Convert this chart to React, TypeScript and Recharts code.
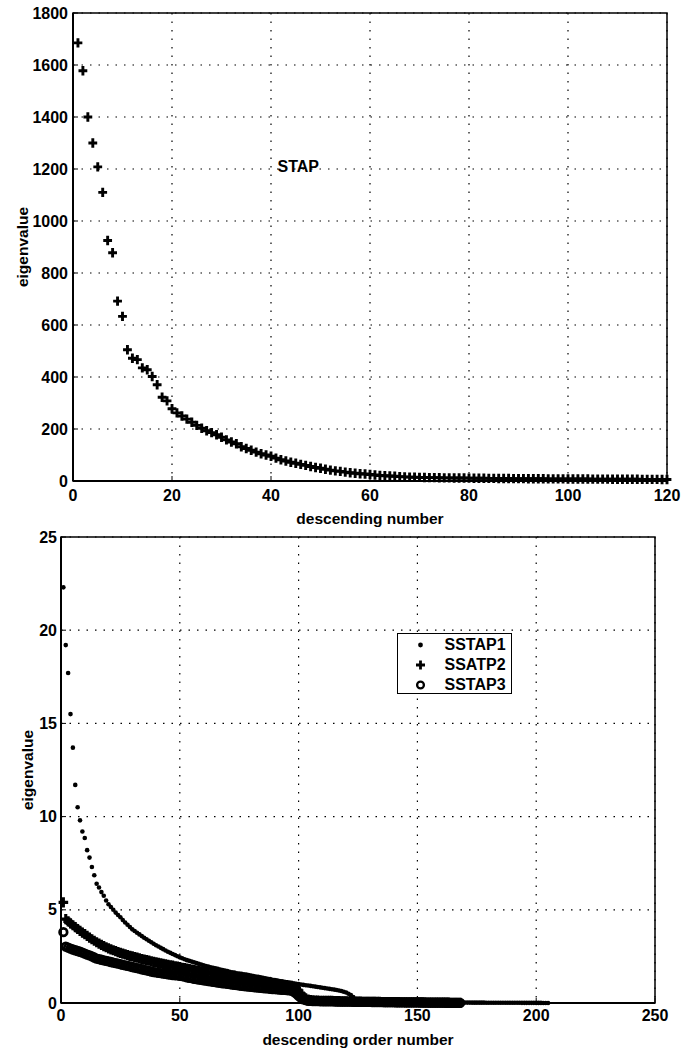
import {
  ScatterChart,
  Scatter,
  XAxis,
  YAxis,
  CartesianGrid,
  ReferenceArea,
  ReferenceDot,
  Legend,
} from 'recharts';

// eigenvalues of the full STAP covariance, in descending order
const stapValues = [
  1685, 1578, 1400, 1300, 1208, 1110, 925, 878, 692, 633,
  505, 472, 467, 435, 428, 402, 370, 322, 308, 278,
  262, 250, 238, 226, 214, 203, 193, 186, 178, 168,
  158, 150, 143, 132, 125, 118, 111, 105, 100, 95,
  88, 82, 77, 72, 68, 64, 60, 56, 52, 49,
  45, 42, 39, 37, 34, 32, 30, 28, 27, 25,
  23, 21, 20, 19, 18, 17, 16, 15, 14.5, 14,
  13.5, 13, 12.8, 12.5, 12.2, 12, 11.8, 11.5, 11.3, 11,
  10.8, 10.6, 10.4, 10.2, 10, 9.8, 9.7, 9.5, 9.3, 9.2,
  9, 8.9, 8.7, 8.6, 8.5, 8.3, 8.2, 8.1, 8, 7.9,
  7.8, 7.7, 7.6, 7.5, 7.4, 7.3, 7.2, 7.1, 7, 6.9,
  6.8, 6.7, 6.6, 6.5, 6.4, 6.3, 6.2, 6.1, 6, 5.9,
];

const sstap1Values = [
  22.3, 19.2, 17.7, 15.5, 13.7, 11.7, 10.5, 9.8, 9.2, 8.85,
  8.2, 7.8, 7.3, 6.85, 6.4, 6.2, 5.95, 5.75, 5.5, 5.3,
  5.15, 5.0, 4.85, 4.72, 4.6, 4.45, 4.32, 4.2, 4.08, 3.95,
  3.86, 3.77, 3.68, 3.59, 3.5, 3.42, 3.34, 3.26, 3.18, 3.1,
  3.03, 2.96, 2.89, 2.82, 2.75, 2.69, 2.63, 2.57, 2.51, 2.45,
  2.4, 2.35, 2.3, 2.26, 2.22, 2.18, 2.14, 2.1, 2.06, 2.02,
  1.98, 1.95, 1.92, 1.89, 1.86, 1.83, 1.8, 1.77, 1.74, 1.71,
  1.68, 1.65, 1.63, 1.6, 1.58, 1.56, 1.54, 1.52, 1.5, 1.47,
  1.45, 1.42, 1.4, 1.38, 1.35, 1.33, 1.3, 1.28, 1.25, 1.23,
  1.2, 1.18, 1.15, 1.13, 1.11, 1.09, 1.07, 1.05, 1.03, 1.01,
  0.99, 0.97, 0.95, 0.94, 0.92, 0.9, 0.88, 0.86, 0.84, 0.82,
  0.8, 0.78, 0.76, 0.74, 0.72, 0.7, 0.67, 0.64, 0.6, 0.56,
  0.5, 0.42, 0.32, 0.2, 0.1,
  0.07, 0.065, 0.06, 0.06, 0.058, 0.056, 0.055, 0.054, 0.052, 0.05,
  0.05, 0.049, 0.048, 0.047, 0.046, 0.045, 0.044, 0.043, 0.042, 0.041,
  0.04, 0.039, 0.038, 0.037, 0.036, 0.036, 0.035, 0.034, 0.033, 0.033,
  0.032, 0.031, 0.03, 0.03, 0.029, 0.028, 0.028, 0.027, 0.026, 0.026,
  0.025, 0.024, 0.024, 0.023, 0.022, 0.022, 0.021, 0.02, 0.02, 0.019,
  0.019, 0.018, 0.018, 0.017, 0.016, 0.016, 0.015, 0.015, 0.014, 0.014,
  0.013, 0.013, 0.012, 0.012, 0.011, 0.011, 0.01, 0.01, 0.009, 0.009,
  0.008, 0.008, 0.007, 0.007, 0.006, 0.006, 0.005, 0.004, 0.003, 0.002,
];

const ssatp2Values = [
  5.4, 4.5, 4.38, 4.27, 4.17, 4.07, 3.97, 3.87, 3.78, 3.69,
  3.6, 3.51, 3.42, 3.34, 3.26, 3.19, 3.12, 3.05, 2.99, 2.93,
  2.88, 2.83, 2.78, 2.73, 2.69, 2.65, 2.61, 2.57, 2.53, 2.5,
  2.46, 2.43, 2.39, 2.36, 2.33, 2.3, 2.27, 2.24, 2.21, 2.18,
  2.15, 2.13, 2.1, 2.07, 2.05, 2.02, 2.0, 1.97, 1.95, 1.92,
  1.89, 1.87, 1.84, 1.82, 1.79, 1.77, 1.74, 1.72, 1.7, 1.68,
  1.66, 1.63, 1.61, 1.58, 1.56, 1.53, 1.51, 1.48, 1.46, 1.43,
  1.41, 1.39, 1.37, 1.35, 1.33, 1.31, 1.29, 1.27, 1.25, 1.23,
  1.21, 1.19, 1.17, 1.15, 1.13, 1.11, 1.1, 1.08, 1.06, 1.05,
  1.03, 1.01, 1.0, 0.98, 0.96, 0.94, 0.92, 0.88, 0.8, 0.65,
  0.5, 0.35, 0.25, 0.18, 0.15, 0.14,
  0.13, 0.13, 0.12, 0.12, 0.12, 0.11, 0.11, 0.11, 0.1, 0.1,
  0.1, 0.09, 0.09, 0.09, 0.08, 0.08, 0.08, 0.07, 0.07,
  0.07, 0.068, 0.066, 0.064, 0.062, 0.06, 0.058, 0.056, 0.055, 0.053,
  0.051, 0.05, 0.048, 0.047, 0.045, 0.044, 0.042, 0.041, 0.04, 0.038,
  0.037, 0.036, 0.034, 0.033, 0.032, 0.03, 0.029, 0.028, 0.027, 0.025,
  0.024, 0.023, 0.022, 0.02, 0.019, 0.018, 0.016, 0.015, 0.013, 0.012,
  0.01, 0.008, 0.005,
];

const sstap3Values = [
  3.8, 3.02, 2.97, 2.92, 2.87, 2.83, 2.79, 2.75, 2.7, 2.65,
  2.6, 2.55, 2.5, 2.44, 2.38, 2.35, 2.32, 2.29, 2.26, 2.23,
  2.2, 2.17, 2.14, 2.11, 2.08, 2.05, 2.02, 1.99, 1.96, 1.93,
  1.9, 1.87, 1.84, 1.81, 1.78, 1.75, 1.72, 1.69, 1.66, 1.64,
  1.62, 1.6, 1.58, 1.56, 1.54, 1.52, 1.5, 1.49, 1.48, 1.46,
  1.44, 1.41, 1.38, 1.35, 1.33, 1.3, 1.28, 1.26, 1.24, 1.22,
  1.2, 1.18, 1.16, 1.14, 1.12, 1.1, 1.08, 1.06, 1.05, 1.03,
  1.01, 0.99, 0.97, 0.96, 0.94, 0.92, 0.91, 0.89, 0.88, 0.86,
  0.85, 0.84, 0.82, 0.81, 0.8, 0.79, 0.78, 0.76, 0.75, 0.74,
  0.73, 0.72, 0.71, 0.7, 0.69, 0.68, 0.66, 0.6, 0.5, 0.38,
  0.28, 0.2, 0.15, 0.12, 0.11, 0.1,
  0.1, 0.098, 0.095, 0.093, 0.09, 0.088, 0.086, 0.084, 0.082, 0.08,
  0.078, 0.076, 0.074, 0.072, 0.07, 0.069, 0.067, 0.065, 0.064, 0.062,
  0.06, 0.059, 0.057, 0.056, 0.054, 0.053, 0.051, 0.05, 0.049, 0.047,
  0.046, 0.045, 0.043, 0.042, 0.041, 0.04, 0.038, 0.037, 0.036, 0.035,
  0.033, 0.032, 0.031, 0.03, 0.028, 0.027, 0.026, 0.025, 0.023, 0.022,
  0.021, 0.02, 0.018, 0.017, 0.016, 0.014, 0.013, 0.012, 0.01, 0.008,
  0.006, 0.004,
];

const seriesNames = ['SSTAP1', 'SSATP2', 'SSTAP3'];

const topXTicks = [0, 20, 40, 60, 80, 100, 120];
const topYTicks = [0, 200, 400, 600, 800, 1000, 1200, 1400, 1600, 1800];
const bottomXTicks = [0, 50, 100, 150, 200, 250];
const bottomYTicks = [0, 5, 10, 15, 20, 25];

// n = descending order number (1-based)
const toPoints = (values: number[]) => values.map((v, i) => ({ n: i + 1, v }));

const FONT = '"Liberation Sans", Arial, Helvetica, sans-serif';
const tickStyle = { fontSize: 16, fontWeight: 700, fill: '#000', fontFamily: FONT };
const labelStyle = { fill: '#000', fontSize: 15.5, fontWeight: 700, fontFamily: FONT };

const makePlus = (arm: number, width: number) => (props: any) => {
  const { cx, cy } = props;
  if (cx == null || cy == null) return <g />;
  return (
    <path
      d={`M${cx - arm},${cy}H${cx + arm}M${cx},${cy - arm - 0.3}V${cy + arm + 0.3}`}
      stroke="#000"
      strokeWidth={width}
      fill="none"
    />
  );
};

const PlusTop = makePlus(4.4, 2.9);
const PlusBottom = makePlus(4.8, 3.1);

const DotMark = (props: any) => {
  const { cx, cy } = props;
  if (cx == null || cy == null) return <g />;
  return <circle cx={cx} cy={cy} r={2.3} fill="#000" />;
};

const RingMark = (props: any) => {
  const { cx, cy } = props;
  if (cx == null || cy == null) return <g />;
  return <circle cx={cx} cy={cy} r={3.8} fill="none" stroke="#000" strokeWidth={2.7} />;
};

const legendIcon = (i: number) => {
  if (i === 0) return <circle cx={22.5} cy={10} r={2.4} fill="#000" />;
  if (i === 1) return <path d="M18,10H27M22.5,5.5V14.5" stroke="#000" strokeWidth={2.8} />;
  return <circle cx={22.5} cy={10} r={3.4} fill="none" stroke="#000" strokeWidth={2.3} />;
};

const LegendBox = () => (
  <div
    style={{
      width: 115,
      height: 61,
      boxSizing: 'border-box',
      border: '1.5px solid #000',
      background: '#fff',
      paddingTop: 1,
      fontFamily: FONT,
      fontWeight: 700,
      fontSize: 16,
      color: '#000',
    }}
  >
    {seriesNames.map((name, i) => (
      <div key={name} style={{ display: 'flex', alignItems: 'center', height: 20 }}>
        <svg width={45} height={20}>{legendIcon(i)}</svg>
        <span style={{ marginLeft: 1.5, lineHeight: '20px' }}>{name}</span>
      </div>
    ))}
  </div>
);

const axisLine = { stroke: '#000', strokeWidth: 2 };
const grid = { stroke: '#000', strokeDasharray: '1.5 7', strokeWidth: 1.2 };

export default function App() {
  const stapData = toPoints(stapValues);
  const s1 = toPoints(sstap1Values);
  const s2 = toPoints(ssatp2Values);
  const s3 = toPoints(sstap3Values);

  return (
    <div style={{ position: 'absolute', left: 0, top: 0, width: 692, height: 1053, background: '#fff' }}>
      <div style={{ position: 'absolute', left: 0, top: 0 }}>
        <ScatterChart width={692} height={530} margin={{ top: 13, right: 25, left: 13, bottom: 0 }}>
          <CartesianGrid {...grid} />
          <XAxis
            type="number"
            dataKey="n"
            domain={[0, 120]}
            ticks={topXTicks}
            height={49}
            stroke="#000"
            axisLine={axisLine}
            tickSize={-5}
            tickMargin={14}
            tick={tickStyle}
            label={{ value: 'descending number', position: 'insideBottom', offset: 6, ...labelStyle }}
          />
          <YAxis
            type="number"
            dataKey="v"
            domain={[0, 1800]}
            ticks={topYTicks}
            width={60}
            stroke="#000"
            axisLine={axisLine}
            tickSize={-5}
            tickMargin={10}
            tick={tickStyle}
            label={{
              value: 'eigenvalue',
              angle: -90,
              position: 'insideLeft',
              offset: 9,
              style: { textAnchor: 'middle' },
              ...labelStyle,
            }}
          />
          <XAxis
            xAxisId="top"
            orientation="top"
            type="number"
            domain={[0, 120]}
            ticks={topXTicks}
            height={0}
            stroke="#000"
            axisLine={{ stroke: '#000', strokeWidth: 1.5 }}
            tickSize={-5}
            tick={false}
          />
          <YAxis
            yAxisId="right"
            orientation="right"
            type="number"
            domain={[0, 1800]}
            ticks={topYTicks}
            width={0}
            stroke="#000"
            axisLine={{ stroke: '#000', strokeWidth: 1.5 }}
            tickSize={-5}
            tick={false}
          />
          <ReferenceArea x1={0} x2={120} y1={0} y2={1800} fill="none" stroke="#000" strokeWidth={1.5} />
          <ReferenceDot
            x={45.5}
            y={1211}
            r={0}
            fill="none"
            stroke="none"
            label={{ value: 'STAP', position: 'center', ...labelStyle, fontSize: 16 }}
          />
          <Scatter data={stapData} shape={PlusTop} isAnimationActive={false} />
        </ScatterChart>
      </div>

      <div style={{ position: 'absolute', left: 0, top: 525 }}>
        <ScatterChart width={692} height={528} margin={{ top: 12, right: 37, left: 13, bottom: 0 }}>
          <CartesianGrid {...grid} />
          <XAxis
            type="number"
            dataKey="n"
            domain={[0, 250]}
            ticks={bottomXTicks}
            height={50}
            stroke="#000"
            axisLine={axisLine}
            tickSize={-5}
            tickMargin={12}
            tick={tickStyle}
            label={{ value: 'descending order number', position: 'insideBottom', offset: 8, ...labelStyle }}
          />
          <YAxis
            type="number"
            dataKey="v"
            domain={[0, 25]}
            ticks={bottomYTicks}
            width={48}
            stroke="#000"
            axisLine={axisLine}
            tickSize={-5}
            tickMargin={9}
            tick={tickStyle}
            label={{
              value: 'eigenvalue',
              angle: -90,
              position: 'insideLeft',
              offset: 14,
              style: { textAnchor: 'middle' },
              ...labelStyle,
            }}
          />
          <XAxis
            xAxisId="top"
            orientation="top"
            type="number"
            domain={[0, 250]}
            ticks={bottomXTicks}
            height={0}
            stroke="#000"
            axisLine={{ stroke: '#000', strokeWidth: 1.5 }}
            tickSize={-5}
            tick={false}
          />
          <YAxis
            yAxisId="right"
            orientation="right"
            type="number"
            domain={[0, 25]}
            ticks={bottomYTicks}
            width={0}
            stroke="#000"
            axisLine={{ stroke: '#000', strokeWidth: 1.5 }}
            tickSize={-5}
            tick={false}
          />
          <ReferenceArea x1={0} x2={250} y1={0} y2={25} fill="none" stroke="#000" strokeWidth={1.5} />
          <Scatter name={seriesNames[2]} data={s3} shape={RingMark} isAnimationActive={false} />
          <Scatter name={seriesNames[1]} data={s2} shape={PlusBottom} isAnimationActive={false} />
          <Scatter name={seriesNames[0]} data={s1} shape={DotMark} isAnimationActive={false} />
          <Legend
            layout="horizontal"
            verticalAlign="middle"
            align="center"
            content={<LegendBox />}
            wrapperStyle={{ left: 397, top: 108, width: 115, height: 61 }}
          />
        </ScatterChart>
      </div>
    </div>
  );
}
